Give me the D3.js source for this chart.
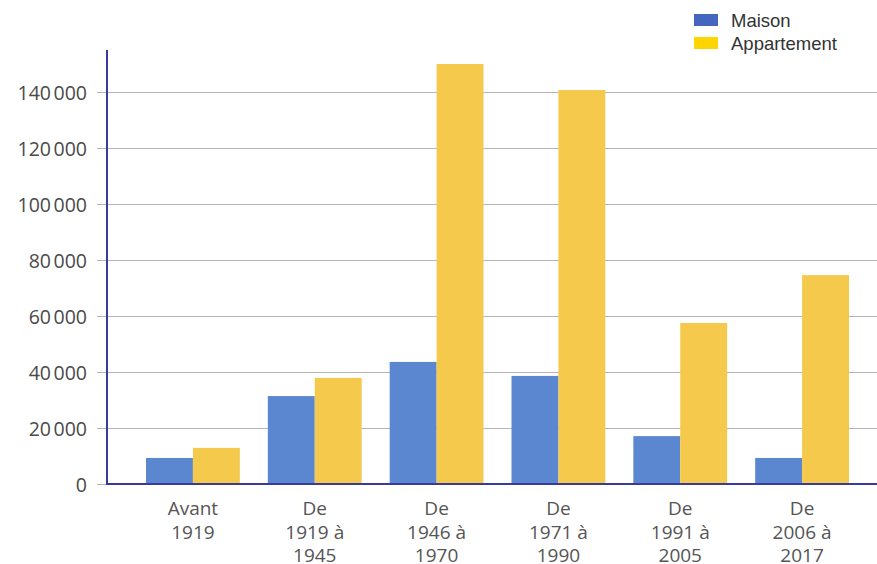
<!DOCTYPE html>
<html>
<head>
<meta charset="utf-8">
<script src="https://cdn.jsdelivr.net/npm/d3@7"></script>
<style>
  html, body { margin: 0; padding: 0; background: #fff; }
  svg { display: block; }
</style>
</head>
<body>
<svg id="chart" width="877" height="564"></svg>
<script>
// Logements par période de construction
const categories = ["Avant 1919", "De 1919 à 1945", "De 1946 à 1970", "De 1971 à 1990", "De 1991 à 2005", "De 2006 à 2017"];
const categoryLines = [["Avant", "1919"], ["De", "1919 à", "1945"], ["De", "1946 à", "1970"], ["De", "1971 à", "1990"], ["De", "1991 à", "2005"], ["De", "2006 à", "2017"]];
const seriesNames = ["Maison", "Appartement"];
const maison = [9300, 31400, 43600, 38600, 17100, 9300];
const appartement = [12900, 37900, 150000, 140700, 57500, 74600];
const yTicks = [0, 20000, 40000, 60000, 80000, 100000, 120000, 140000];
const yTickLabels = ["0", "20\u202f000", "40\u202f000", "60\u202f000", "80\u202f000", "100\u202f000", "120\u202f000", "140\u202f000"];

const barColors = ["#5b86d0", "#f5c94b"];
const legendColors = ["#4466c0", "#ffd500"];
const axisColor = "#3a3a9e";

const svg = d3.select("#chart");

const plotLeft = 107, plotRight = 877, plotBottom = 484;

const y = d3.scaleLinear().domain([0, 140000]).range([plotBottom, 92]);
const x = d3.scaleBand().domain(categories).range([132, 863]).paddingInner(0.23).paddingOuter(0.115);
const xs = d3.scaleBand().domain(seriesNames).range([0, x.bandwidth()]);

// Horizontal grid lines with tick stubs
const yAxis = d3.axisLeft(y)
  .tickValues(yTicks)
  .tickSize(-(plotRight - plotLeft))
  .tickFormat((d, i) => yTickLabels[i])
  .tickPadding(0);

const gY = svg.append("g").attr("transform", `translate(${plotLeft},0)`).call(yAxis);
gY.select(".domain").remove();
gY.selectAll(".tick line").attr("stroke", "#b4b4b4").attr("stroke-width", 1)
  .attr("x1", -10);
gY.selectAll(".tick text")
  .attr("x", -20)
  .attr("dy", "0.36em")
  .attr("fill", "#4a4a4a")
  .style("font-family", "'Open Sans', sans-serif")
  .style("font-size", "19.5px");

// Bars
const rows = categories.map((c, i) => ({ cat: c, values: [maison[i], appartement[i]] }));
const groups = svg.append("g").selectAll("g").data(rows).join("g")
  .attr("transform", d => `translate(${x(d.cat)},0)`);
groups.selectAll("rect")
  .data(d => d.values.map((v, k) => ({ key: seriesNames[k], v, k })))
  .join("rect")
  .attr("x", d => xs(d.key))
  .attr("width", xs.bandwidth())
  .attr("y", d => y(d.v))
  .attr("height", d => y(0) - y(d.v))
  .attr("fill", d => barColors[d.k]);

// Axis lines
svg.append("line")
  .attr("x1", plotLeft).attr("x2", plotLeft)
  .attr("y1", 50).attr("y2", plotBottom + 1)
  .attr("stroke", axisColor).attr("stroke-width", 2);
svg.append("line")
  .attr("x1", plotLeft - 1).attr("x2", plotRight)
  .attr("y1", plotBottom).attr("y2", plotBottom)
  .attr("stroke", axisColor).attr("stroke-width", 2);

// Category labels
const labels = svg.append("g").selectAll("text").data(categories).join("text")
  .attr("x", d => x(d) + x.bandwidth() / 2)
  .attr("y", 515)
  .attr("text-anchor", "middle")
  .attr("fill", "#555")
  .style("font-family", "'Open Sans', sans-serif")
  .style("font-size", "19px");
labels.selectAll("tspan")
  .data((d, i) => categoryLines[i])
  .join("tspan")
  .attr("x", function () { return this.parentNode.getAttribute("x"); })
  .attr("dy", (d, j) => j === 0 ? 0 : 23.5)
  .text(d => d);

// Legend
const legend = svg.append("g").attr("transform", "translate(694,14)");
const li = legend.selectAll("g").data(seriesNames).join("g")
  .attr("transform", (d, i) => `translate(0,${i * 23})`);
li.append("rect").attr("width", 24).attr("height", 12).attr("fill", (d, i) => legendColors[i]);
li.append("text")
  .attr("x", 37).attr("y", 6).attr("dy", "0.36em")
  .attr("fill", "#333")
  .style("font-family", "'Liberation Sans', Arial, sans-serif")
  .style("font-size", "18.5px")
  .text(d => d);
</script>
</body>
</html>
